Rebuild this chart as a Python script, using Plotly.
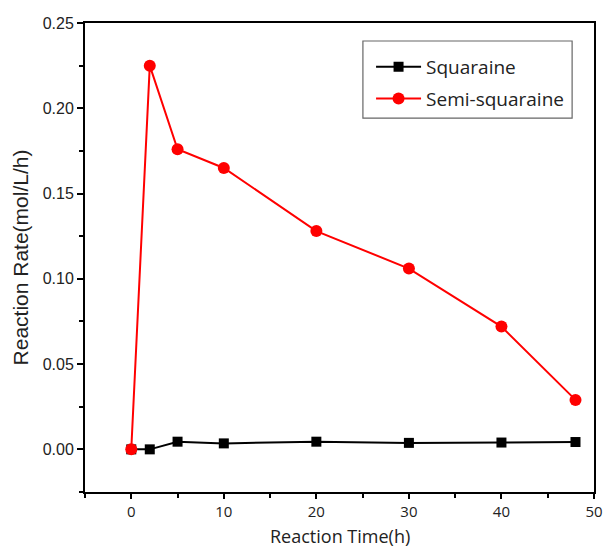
import plotly.graph_objects as go

time_h = [0, 2, 5, 10, 20, 30, 40, 48]
squaraine = [0.0, 0.0, 0.0045, 0.0035, 0.0045, 0.0038, 0.004, 0.0043]
semi_squaraine = [0.0, 0.225, 0.176, 0.165, 0.128, 0.106, 0.072, 0.029]
x_title = "Reaction Time(h)"
y_title = "Reaction Rate(mol/L/h)"

fig = go.Figure()
fig.add_trace(go.Scatter(x=time_h, y=squaraine, mode="lines+markers", name="Squaraine",
                         legendgroup="a",
                         line=dict(color="black", width=2),
                         marker=dict(symbol="square", size=10, color="black")))
fig.add_trace(go.Scatter(x=time_h, y=semi_squaraine, mode="lines+markers", name="Semi-squaraine",
                         legendgroup="b",
                         line=dict(color="#ff0000", width=2),
                         marker=dict(symbol="circle", size=12, color="#ff0000")))

fig.update_layout(
    width=604, height=548,
    margin=dict(l=85, r=10, t=23, b=56, autoexpand=False),
    paper_bgcolor="white", plot_bgcolor="white",
    legend=dict(x=0.562, y=0.947, xanchor="left", yanchor="top",
                borderwidth=0, bgcolor="rgba(0,0,0,0)",
                font=dict(family="Open Sans", size=19, color="#222222"),
                tracegroupgap=4, itemwidth=45),
    showlegend=True,
    shapes=[dict(type="rect", xref="paper", yref="paper", x0=0.546, x1=0.957, y0=0.797, y1=0.9616,
                 line=dict(color="#666666", width=1.2), fillcolor="rgba(0,0,0,0)", layer="below")],
    annotations=[dict(text=x_title, xref="paper", yref="paper", x=0.5, y=0, xanchor="center",
                      yanchor="middle", yshift=-44, showarrow=False, borderpad=0,
                      font=dict(family="Open Sans", size=18, color="#222222"))],
)
fig.update_xaxes(
    range=[-5, 50], tickvals=[0, 10, 20, 30, 40, 50],
    ticks="outside", ticklen=5, tickwidth=2, tickcolor="black",
    minor=dict(tickvals=[-5, 5, 15, 25, 35, 45], ticks="outside", ticklen=4, tickwidth=2, tickcolor="black"),
    showline=True, linecolor="black", linewidth=2, mirror=True,
    showgrid=False, zeroline=False, automargin=False, ticklabeloverflow="allow",
    tickfont=dict(family="Open Sans", size=15, color="#222222"),
)
fig.update_yaxes(
    range=[-0.025, 0.25], tickvals=[0, 0.05, 0.10, 0.15, 0.20, 0.25], tickformat=".2f",
    ticks="outside", ticklen=6, tickwidth=2, tickcolor="black",
    minor=dict(tickvals=[-0.025, 0.025, 0.075, 0.125, 0.175, 0.225], ticks="outside", ticklen=4, tickwidth=2, tickcolor="black"),
    showline=True, linecolor="black", linewidth=2, mirror=True,
    showgrid=False, zeroline=False, automargin=False,
    tickfont=dict(family="Liberation Sans", size=16, color="#222222"),
    title=dict(text=y_title, font=dict(family="Liberation Sans", size=21, color="#222222"), standoff=8),
)

fig.write_html("out.html")
